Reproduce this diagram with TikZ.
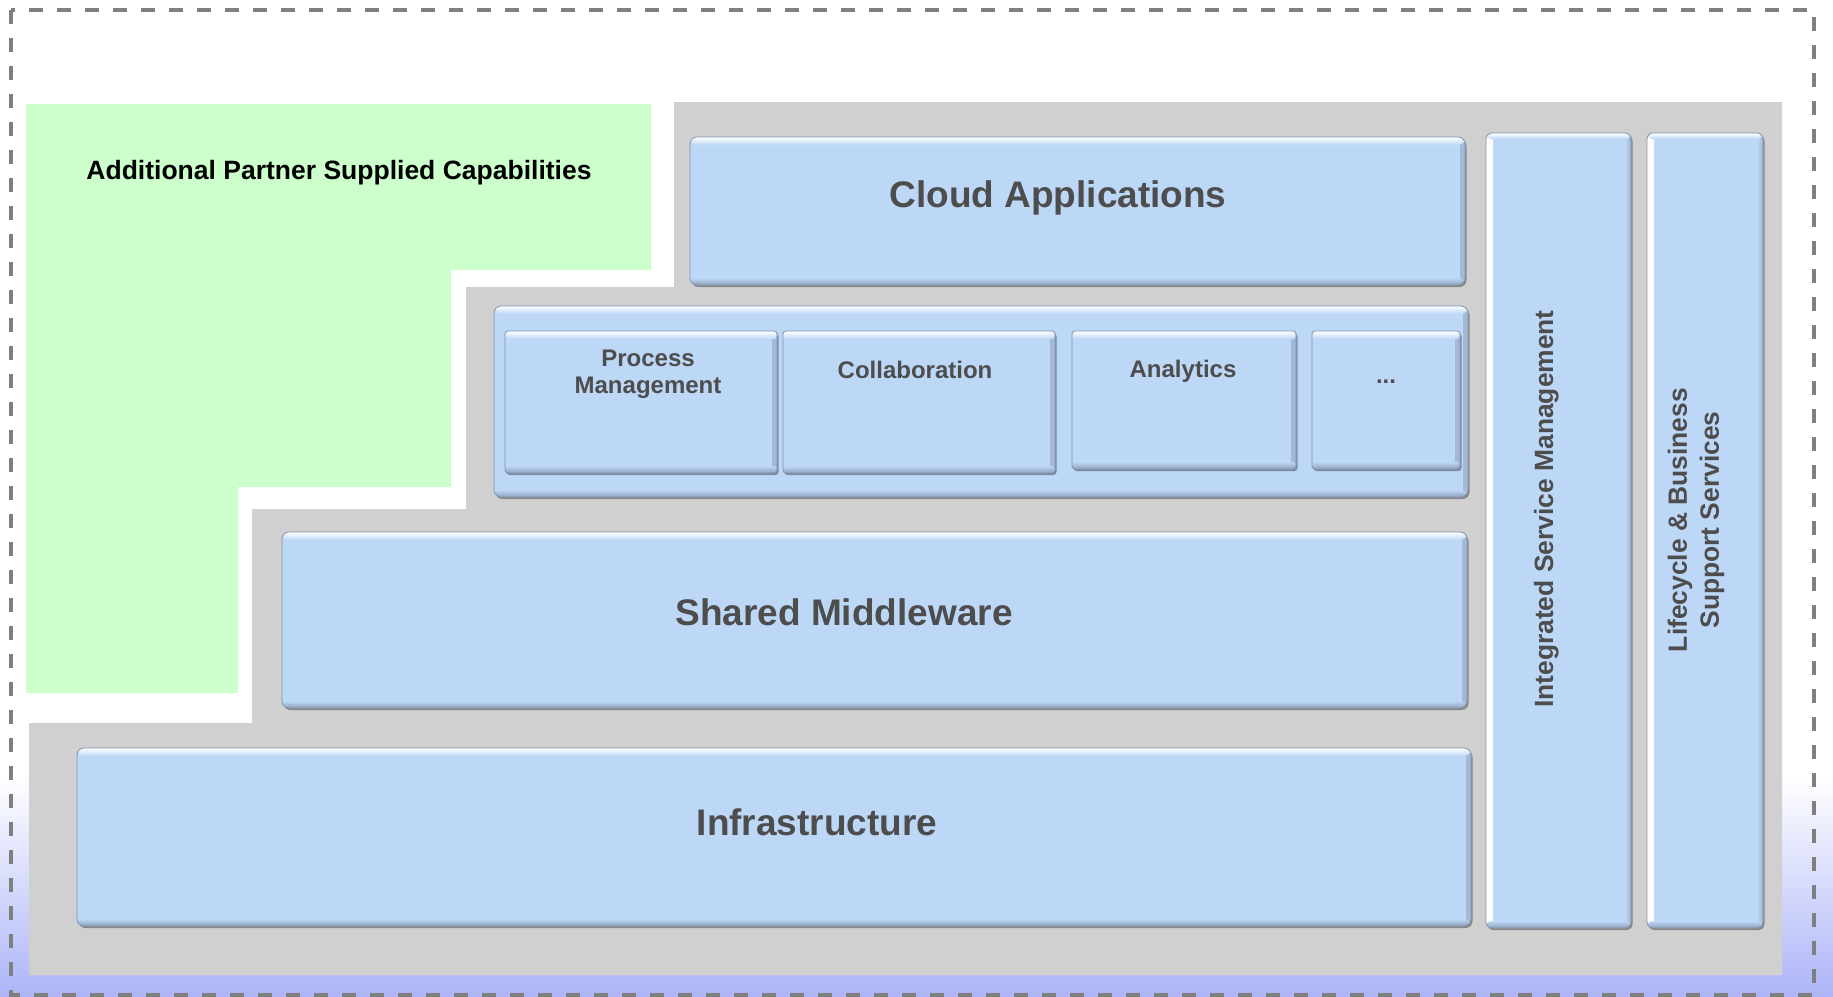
\documentclass[tikz,border=0pt]{standalone}
\usepackage{fontspec}
\setmainfont{Liberation Sans}
\usetikzlibrary{shadows,fit,backgrounds,calc}

\definecolor{tileblue}{HTML}{BDD7F7}
\definecolor{tileedge}{HTML}{7F93AD}
\definecolor{panelgray}{HTML}{D0D0D0}
\definecolor{partnergreen}{HTML}{CCFFCC}
\definecolor{labelgray}{HTML}{4D4D4D}
\definecolor{lavender}{HTML}{ADB5F8}
\definecolor{framegray}{HTML}{7F7F7F}

\tikzset{
  tilebase/.style={fill=tileblue, draw=tileedge, line width=0.8pt, inner sep=0pt,
    drop shadow={shadow xshift=1.5pt, shadow yshift=-2pt, fill=black, opacity=0.35}},
  tile/.style={tilebase, rounded corners=7pt,
    path picture={
      \shade[left color=tileblue, right color=tileblue!86!black]
        ([xshift=-5pt]path picture bounding box.south east) rectangle (path picture bounding box.north east);
      \shade[top color=tileblue, bottom color=tileblue!75!black]
        ([yshift=7pt]path picture bounding box.south west) rectangle (path picture bounding box.south east);
      \shade[top color=white, bottom color=tileblue]
        (path picture bounding box.north west) rectangle ([yshift=-8pt]path picture bounding box.north east);
    }},
  talltile/.style={tilebase, rounded corners=6pt,
    path picture={
      \shade[left color=white, right color=tileblue]
        (path picture bounding box.north west) rectangle ([xshift=7pt]path picture bounding box.south west);
      \shade[left color=tileblue, right color=tileblue!84!black]
        ([xshift=-6pt]path picture bounding box.south east) rectangle (path picture bounding box.north east);
      \shade[top color=tileblue, bottom color=tileblue!75!black]
        ([yshift=7pt]path picture bounding box.south west) rectangle (path picture bounding box.south east);
      \shade[top color=white, bottom color=tileblue]
        (path picture bounding box.north west) rectangle ([yshift=-6pt]path picture bounding box.north east);
    }},
  biglabel/.style={text=labelgray, font=\fontsize{37}{44}\selectfont\bfseries, inner sep=0pt},
  sidelabel/.style={text=labelgray, font=\fontsize{26.4}{32}\selectfont\bfseries, inner sep=0pt},
  smalllabel/.style={text=labelgray, font=\fontsize{24}{27}\selectfont\bfseries, inner sep=0pt},
}

\begin{document}
\begin{tikzpicture}[x=1pt,y=-1pt]
    \useasboundingbox (0,0) rectangle (1833,996);
    % backdrop
    \shade[top color=white, bottom color=lavender] (0,775) rectangle (1833,996);
    \fill[partnergreen] (26,104) -- (651,104) -- (651,270) -- (451,270) -- (451,487)
      -- (238,487) -- (238,693) -- (26,693) -- cycle;
    \fill[panelgray] (674,102) -- (1782,102) -- (1782,975) -- (29,975) -- (29,723)
      -- (252,723) -- (252,509) -- (466,509) -- (466,287) -- (674,287) -- cycle;
    \node[anchor=base, inner sep=0pt, font=\fontsize{26.5}{32}\selectfont\bfseries] (partner) at (339,179) {Additional Partner Supplied Capabilities};

    % layers
    \node[tile, fit={(690,137) (1465,285)}] (cloud) {};
    \node[tile, fit={(494,306) (1468,497)}] (svcrow) {};
    \node[tile, rounded corners=3pt, fit={(505,331) (777,473)}] (procmgmt) {};
    \node[tile, rounded corners=3pt, fit={(783,331) (1055,473)}] (collab) {};
    \node[tile, rounded corners=3pt, fit={(1072,331) (1296,469)}] (analytics) {};
    \node[tile, rounded corners=3pt, fit={(1312,331) (1460,469)}] (more) {};
    \node[tile, fit={(282,532) (1467,708)}] (middleware) {};
    \node[tile, fit={(77,748) (1471,926)}] (infra) {};
    \node[talltile, fit={(1486,133) (1631,928)}] (ism) {};
    \node[talltile, fit={(1647,133) (1763,928)}] (lifecycle) {};

    \node[biglabel, anchor=base] (cloudtxt) at (1058,207) {Cloud Applications};
    \node[biglabel, anchor=base] (middlewaretxt) at (844,625) {Shared Middleware};
    \node[biglabel, anchor=base] (infratxt) at (817,835) {Infrastructure};
    \node[smalllabel, anchor=north, align=center] (procmgmttxt) at (648,350) {Process\\Management};
    \node[smalllabel, anchor=base] (collabtxt) at (915,378) {Collaboration};
    \node[smalllabel, anchor=base] (analyticstxt) at (1183,377) {Analytics};
    \node[smalllabel, anchor=base] (moretxt) at (1386,383) {...};
    \node[sidelabel, rotate=90, anchor=base] (ismtxt) at (1553,509) {Integrated Service Management};
    \node[sidelabel, rotate=90, align=center] (lifecycletxt) at (1696,520) {Lifecycle \& Business\\Support Services};

    \draw[framegray, line width=3.5pt, dash pattern=on 14pt off 14pt] (11,10) rectangle (1814,995);
\end{tikzpicture}
\end{document}
